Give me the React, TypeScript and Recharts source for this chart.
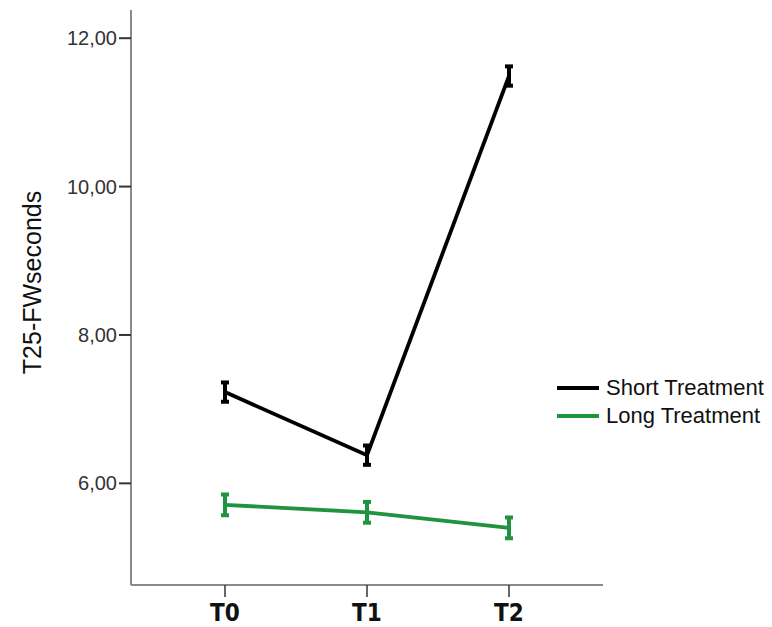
import React from "react";
import { LineChart, Line, XAxis, YAxis, ErrorBar, Legend } from "recharts";

const categories = ["T0", "T1", "T2"];
const seriesNames = ["Short Treatment", "Long Treatment"];
const shortMean = [7.23, 6.38, 11.49];
const shortErr = [0.13, 0.13, 0.13];
const longMean = [5.71, 5.61, 5.4];
const longErr = [0.14, 0.14, 0.14];
const yTicks = [6, 8, 10, 12];

const data = categories.map((c, i) => ({
  time: c,
  short: shortMean[i],
  shortErr: shortErr[i],
  long: longMean[i],
  longErr: longErr[i],
}));

const GREEN = "#1f933d";
const AXIS_GRAY = "#8a8a8a";

const renderLegend = (props: any) => {
  // keep the series order, not alphabetical
  const items = [...props.payload].sort(
    (a: any, b: any) => seriesNames.indexOf(a.value) - seriesNames.indexOf(b.value)
  );
  return (
    <div>
      {items.map((entry: any) => (
        <div key={entry.value} style={{ display: "flex", alignItems: "center", height: 28 }}>
          <svg width={42} height={6}>
            <line x1={0} y1={3} x2={42} y2={3} stroke={entry.color} strokeWidth={4} />
          </svg>
          <span
            style={{
              marginLeft: 7,
              fontFamily: "'Liberation Sans', Arial, sans-serif",
              fontSize: 22,
              color: "#111",
              whiteSpace: "nowrap",
            }}
          >
            {entry.value}
          </span>
        </div>
      ))}
    </div>
  );
};

export default function App() {
  return (
    <div style={{ position: "absolute", left: 0, top: 0, background: "#fff" }}>
      <LineChart width={772} height={627} data={data} margin={{ top: 10, right: 169, bottom: 0, left: 0 }}>
        <XAxis
          dataKey="time"
          height={42}
          padding={{ left: 94, right: 94 }}
          stroke={AXIS_GRAY}
          strokeWidth={2}
          tickSize={12}
          tickMargin={7}
          tickLine={{ stroke: "#333", strokeWidth: 1.5 }}
          tick={{
            fill: "#111",
            fontSize: 24,
            fontWeight: "bold",
            fontFamily: "'Liberation Sans Narrow', 'DejaVu Sans Condensed', Arial, sans-serif",
          }}
        />
        <YAxis
          width={131}
          domain={[4.63, 12.38]}
          ticks={yTicks}
          allowDataOverflow
          stroke={AXIS_GRAY}
          strokeWidth={2}
          tickSize={12}
          tickMargin={2}
          tickLine={{ stroke: "#333", strokeWidth: 2 }}
          tickFormatter={(v: number) => v.toFixed(2).replace(".", ",")}
          tick={{ fill: "#333", fontSize: 20, fontFamily: "'Liberation Sans', Arial, sans-serif" }}
          label={{
            value: "T25-FWseconds",
            angle: -90,
            position: "center",
            dx: -33,
            dy: -15,
            style: { fill: "#111", fontSize: 25, fontFamily: "'Liberation Sans', Arial, sans-serif" },
          }}
        />
        <Legend
          layout="vertical"
          align="center"
          verticalAlign="middle"
          content={renderLegend}
          wrapperStyle={{ left: 557, top: 374, width: 215 }}
        />
        <Line
          type="linear"
          dataKey="short"
          name={seriesNames[0]}
          stroke="#000"
          strokeWidth={3.8}
          dot={false}
          activeDot={false}
          isAnimationActive={false}
        >
          <ErrorBar dataKey="shortErr" width={4} strokeWidth={4} stroke="#000" isAnimationActive={false} />
        </Line>
        <Line
          type="linear"
          dataKey="long"
          name={seriesNames[1]}
          stroke={GREEN}
          strokeWidth={3.8}
          dot={false}
          activeDot={false}
          isAnimationActive={false}
        >
          <ErrorBar dataKey="longErr" width={4} strokeWidth={4} stroke={GREEN} isAnimationActive={false} />
        </Line>
      </LineChart>
    </div>
  );
}
